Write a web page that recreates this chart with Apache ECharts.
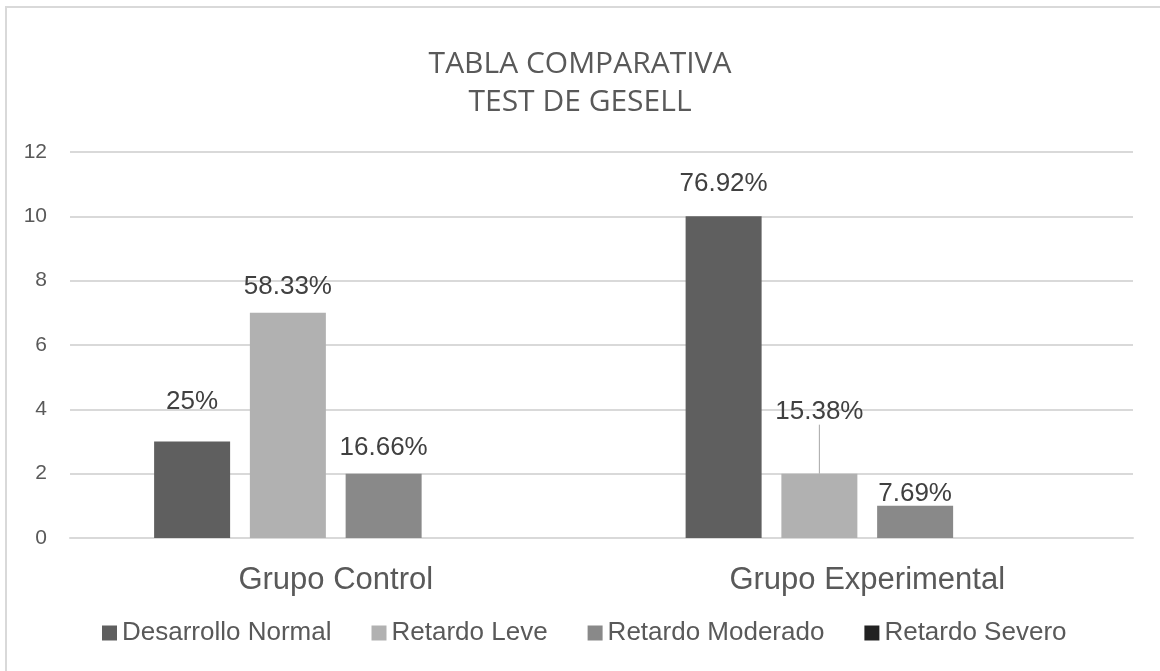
<!DOCTYPE html>
<html>
<head>
<meta charset="utf-8">
<script src="https://cdn.jsdelivr.net/npm/echarts@6/dist/echarts.min.js"></script>
<style>
  html, body { margin: 0; padding: 0; background: #fff; }
  #chart { width: 1160px; height: 671px; }
</style>
</head>
<body>
<div id="chart"></div>
<script>
// datos
const grupos = ["Grupo Control", "Grupo Experimental"];
const nombres = ["Desarrollo Normal", "Retardo Leve", "Retardo Moderado", "Retardo Severo"];
const desarrolloNormal = [3, 10];
const retardoLeve = [7, 2];
const retardoModerado = [2, 1];
const retardoSevero = [0, 0];
const etiquetasNormal = ["25%", "76.92%"];
const etiquetasLeve = ["58.33%", "15.38%"];
const etiquetasModerado = ["16.66%", "7.69%"];
const etiquetasSevero = ["", ""];
const ticksY = [0, 2, 4, 6, 8, 10, 12];

const colores = ["#5f5f5f", "#b1b1b1", "#898989", "#222222"];
const texto = "#595959";
// desplazamiento vertical de cada etiqueta (por serie, por grupo)
const desplazar = [[-22, -15], [-8, -44], [-8, 6], [0, 0]];

const valores = [desarrolloNormal, retardoLeve, retardoModerado, retardoSevero];
const etiquetas = [etiquetasNormal, etiquetasLeve, etiquetasModerado, etiquetasSevero];

let chart = echarts.init(document.getElementById("chart"));

let series = nombres.map(function (nombre, s) {
  return {
    name: nombre,
    type: "bar",
    barWidth: 76,
    barGap: "26%",
    itemStyle: { color: colores[s] },
    label: {
      show: s < 3,
      position: "top",
      distance: 5,
      fontFamily: "Liberation Sans, Arial",
      fontSize: 26,
      color: "#404040",
      formatter: function (p) {
        return etiquetas[s][p.dataIndex];
      },
    },
    labelLayout: function (p) {
      return { dy: desplazar[s][p.dataIndex] };
    },
    data: valores[s].map(function (v, i) {
      let item = { value: v };
      if (s === 1 && i === 1) {
        item.labelLine = { show: true, lineStyle: { color: "#a6a6a6", width: 1 } };
      }
      return item;
    }),
  };
});

let option = {
  backgroundColor: "#fff",
  animation: false,
  graphic: [
    {
      type: "rect",
      shape: { x: 6, y: 7, width: 1200, height: 700 },
      style: { fill: "none", stroke: "#d9d9d9", lineWidth: 2 },
      silent: true,
    },
  ],
  title: {
    text: "TABLA COMPARATIVA\nTEST DE GESELL",
    left: "center",
    top: 40,
    textStyle: {
      fontFamily: "Open Sans",
      fontWeight: "normal",
      fontSize: 30,
      lineHeight: 38,
      color: texto,
    },
  },
  legend: {
    data: nombres,
    bottom: 20,
    left: 97,
    itemWidth: 15,
    itemHeight: 15,
    itemGap: 40,
    icon: "rect",
    textStyle: {
      fontFamily: "Liberation Sans, Arial",
      fontSize: 26,
      color: texto,
    },
  },
  grid: {
    left: 70,
    right: 27,
    top: 152,
    bottom: 133,
    containLabel: false,
  },
  xAxis: {
    type: "category",
    data: grupos,
    axisLine: { show: true, lineStyle: { color: "#d9d9d9", width: 2 } },
    axisTick: { show: false },
    axisLabel: {
      margin: 27,
      fontFamily: "Liberation Sans, Arial",
      fontSize: 31,
      color: texto,
    },
  },
  yAxis: {
    type: "value",
    min: ticksY[0],
    max: ticksY[ticksY.length - 1],
    interval: 2,
    axisLine: { show: false },
    axisTick: { show: false },
    splitLine: { lineStyle: { color: "#d9d9d9", width: 2 } },
    axisLabel: {
      margin: 23,
      fontFamily: "Liberation Sans, Arial",
      fontSize: 21,
      color: texto,
    },
  },
  series: series,
};

option && chart.setOption(option);
</script>
</body>
</html>
